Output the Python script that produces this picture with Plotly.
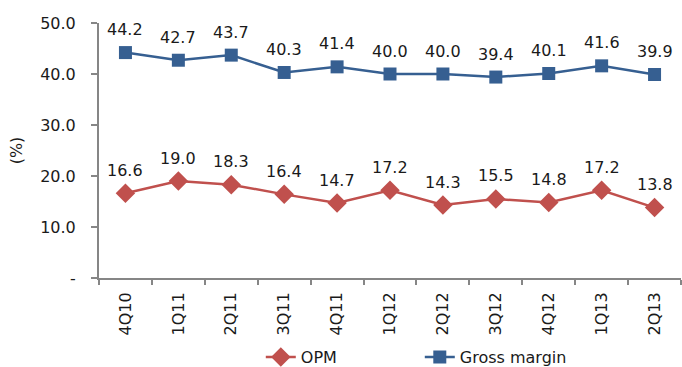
import plotly.graph_objects as go

quarters = ["4Q10", "1Q11", "2Q11", "3Q11", "4Q11", "1Q12", "2Q12", "3Q12", "4Q12", "1Q13", "2Q13"]
opm = [16.6, 19.0, 18.3, 16.4, 14.7, 17.2, 14.3, 15.5, 14.8, 17.2, 13.8]
gross_margin = [44.2, 42.7, 43.7, 40.3, 41.4, 40.0, 40.0, 39.4, 40.1, 41.6, 39.9]

RED = "#C0504D"
BLUE = "#365F91"
AXIS = "#868686"
FONT = "DejaVu Sans"
SIZE = 16

fig = go.Figure()
fig.add_trace(go.Scatter(
    x=quarters, y=opm, name="OPM", mode="lines+markers",
    line=dict(color=RED, width=2.5),
    marker=dict(symbol="diamond", size=15, color=RED),
))
fig.add_trace(go.Scatter(
    x=quarters, y=gross_margin, name="Gross margin", mode="lines+markers",
    line=dict(color=BLUE, width=2.5),
    marker=dict(symbol="square", size=13, color=BLUE),
))

# value labels above each point
for series in (opm, gross_margin):
    for q, v in zip(quarters, series):
        fig.add_annotation(x=q, y=v, text=f"{v:.1f}", showarrow=False,
                           yshift=23, font=dict(family=FONT, size=SIZE, color="#1a1a1a"))

fig.update_layout(
    width=682, height=367,
    margin=dict(l=99, r=1, t=23, b=89, autoexpand=False),
    paper_bgcolor="white", plot_bgcolor="white",
    font=dict(family=FONT, size=SIZE, color="#1a1a1a"),
    showlegend=True,
    legend=dict(orientation="h", x=0.278, xanchor="left", xref="paper",
                y=0.027, yanchor="middle", yref="container",
                font=dict(family=FONT, size=SIZE), itemwidth=30, tracegroupgap=0,
                entrywidth=114),
)
fig.update_xaxes(
    type="category", tickangle=-90, showline=True, linecolor=AXIS, linewidth=2,
    ticks="outside", tickson="boundaries", ticklen=5, tickcolor=AXIS, tickwidth=2,
    showgrid=False, range=[-0.5, 10.5], tickfont=dict(family=FONT, size=SIZE),
    ticklabelstandoff=6, automargin=False,
)
fig.update_yaxes(
    range=[0, 50], tickvals=[0, 10, 20, 30, 40, 50],
    ticktext=["-", "10.0", "20.0", "30.0", "40.0", "50.0"],
    showline=True, linecolor=AXIS, linewidth=2, ticks="outside", ticklen=6,
    tickcolor=AXIS, tickwidth=2, showgrid=False, zeroline=False,
    ticklabelstandoff=12, tickfont=dict(family=FONT, size=SIZE), automargin=False,
    title=dict(text="(%)", font=dict(family=FONT, size=SIZE), standoff=14),
)

fig.write_html("out.html")
